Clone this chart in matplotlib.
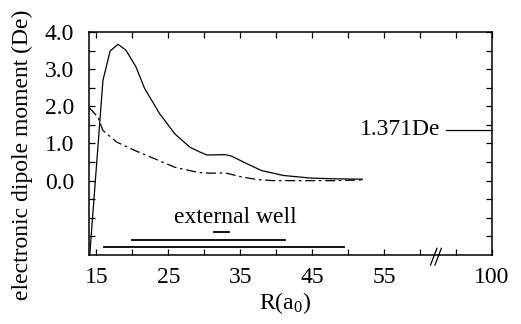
import matplotlib
matplotlib.use("Agg")
import matplotlib.pyplot as plt

# ================ DATA ================
# solid curve: electronic dipole moment (De) vs R (a0)
r_solid = [14.06, 15.9, 16.9, 18.0, 19.1, 20.5, 21.7, 23.8, 25.9, 28.0, 29.4,
           30.4, 32.9, 33.8, 36.0, 38.0, 41.0, 44.8, 48.0, 52.0]
mu_solid = [-2.0, 2.70, 3.49, 3.67, 3.51, 3.06, 2.48, 1.80, 1.26, 0.90, 0.77,
            0.69, 0.70, 0.66, 0.45, 0.27, 0.14, 0.07, 0.05, 0.04]

# dash-dot curve
r_dash = [14.0, 15.2, 15.9, 17.8, 20.35, 23.1, 25.9, 29.2, 30.8, 32.9, 35.0,
          37.3, 39.6, 44.0, 48.0, 52.0]
mu_dash = [1.96, 1.71, 1.35, 1.04, 0.81, 0.59, 0.36, 0.22, 0.20, 0.21, 0.11,
           0.03, 0.0, 0.0, 0.0, 0.02]

# horizontal range bars at the bottom: (start, end, level)
bar_start = [20.0, 16.0, 31.3]
bar_end = [41.2, 49.4, 33.5]
bar_level = [-1.60, -1.79, -1.37]

asymptote = 1.371

x_major = [15, 25, 35, 45, 55, 70]
x_major_labels = ["15", "25", "35", "45", "55", "100"]
x_minor = [20, 30, 40, 50, 60, 65]
y_major = [0, 1, 2, 3, 4]
y_major_labels = ["0.0", "1.0", "2.0", "3.0", "4.0"]
y_minor = [-1.5, -1.0, -0.5, 0.5, 1.5, 2.5, 3.5]

# ================ STYLE ================
plt.rcParams["font.family"] = ["Liberation Serif", "DejaVu Serif"]
plt.rcParams["mathtext.fontset"] = "custom"
plt.rcParams["mathtext.rm"] = "Liberation Serif"
plt.rcParams["mathtext.it"] = "Liberation Serif:italic"

fs = 17

fig = plt.figure(figsize=(5.21, 3.24), dpi=100)
ax = fig.add_axes([0.1714, 0.2130, 0.7723, 0.6882])

ax.plot(r_solid, mu_solid, color="black", lw=0.9)
ax.plot(r_dash, mu_dash, color="black", lw=0.9, dashes=(8, 3, 2, 3))

for s, e, lv in zip(bar_start, bar_end, bar_level):
    ax.plot([s, e], [lv, lv], color="black", lw=1.3)

ax.text(34.35, -1.15, "external well", fontsize=fs, ha="center", va="baseline")

# asymptotic value marker at the right edge
ax.plot([63.7, 70], [asymptote, asymptote], color="black", lw=0.9, clip_on=False)
ax.text(62.8, asymptote, "1.371De", fontsize=fs, ha="right", va="center")

ax.set_xlim(14, 70)
ax.set_ylim(-2, 4)
ax.set_xticks(x_major)
ax.set_xticklabels(x_major_labels)
ax.set_xticks(x_minor, minor=True)
ax.set_yticks(y_major)
ax.set_yticklabels(y_major_labels)
ax.set_yticks(y_minor, minor=True)
ax.tick_params(which="both", direction="in", top=True, right=True,
               length=4, width=0.9, labelsize=fs)
ax.tick_params(axis="x", pad=9)
ax.tick_params(axis="y", pad=11)
for sp in ax.spines.values():
    sp.set_linewidth(1.1)

# axis break marks "//"
for dx in (0.0, 0.011):
    ax.plot([0.848 + dx, 0.864 + dx], [-0.045, 0.03], transform=ax.transAxes,
            color="black", lw=0.9, clip_on=False)

fig.text(22 / 521, 1 - 155 / 324, "electronic dipole moment (De)", fontsize=17,
         rotation=90, ha="center", va="center")
fig.text(285 / 521, 1 - 303 / 324, r"R(a$_0$)", fontsize=fs,
         ha="center", va="center")

fig.savefig("out.png", dpi=100)
